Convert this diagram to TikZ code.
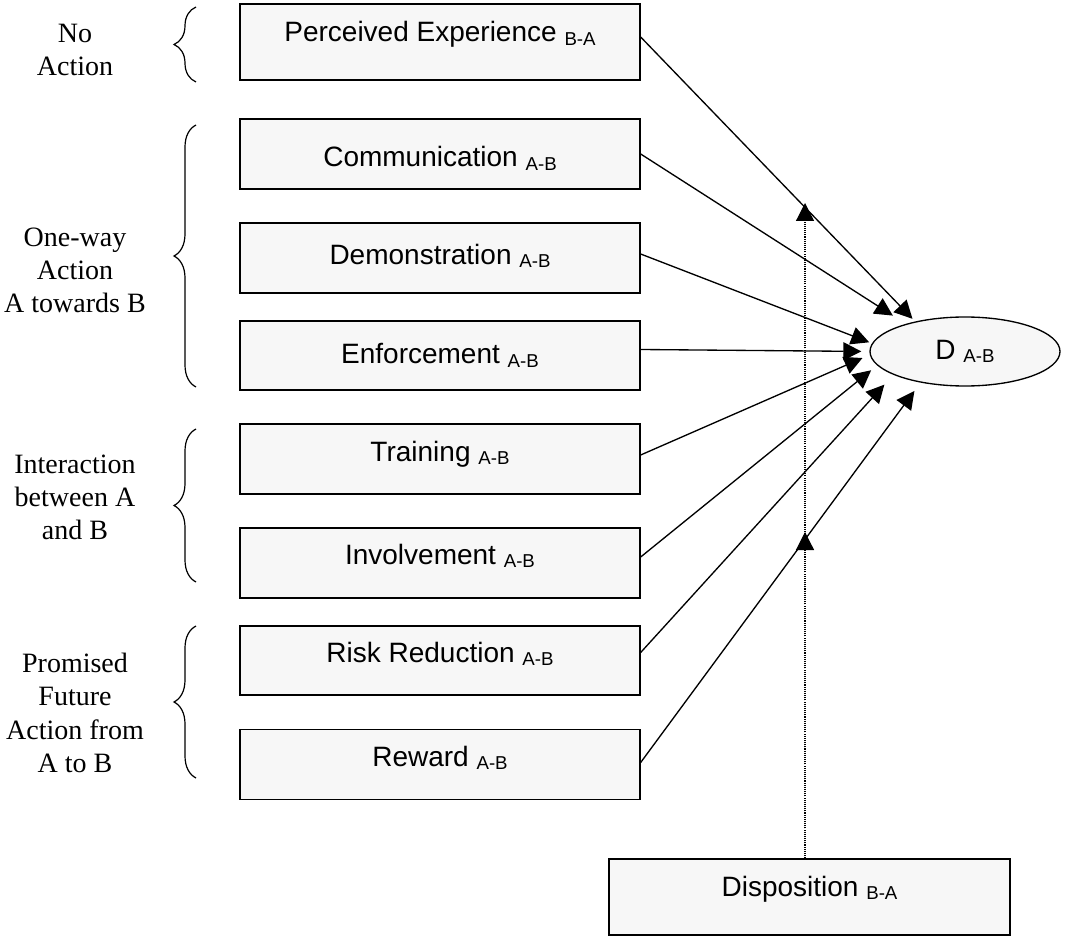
\documentclass[tikz,border=0pt]{standalone}
\usepackage{fontspec}
\setmainfont{Liberation Serif}
\newfontfamily\boxfont{Liberation Sans}
\usepackage{tikz}
\usetikzlibrary{arrows.meta,shapes.geometric,decorations.pathreplacing}

\newcommand{\lowtag}[1]{{\fontsize{14}{14}\selectfont\raisebox{-2.3pt}{#1}}}

\begin{document}
\begin{tikzpicture}
[x=0.75pt,y=-0.75pt,>={Triangle[length=13.5pt,width=13.5pt]},
box/.style={draw,line width=1pt,fill=black!3,font=\boxfont\fontsize{21}{21}\selectfont,minimum width=300pt,inner xsep=0pt,inner ysep=0pt,text height=27.75pt,text depth=24.75pt},
side/.style={font=\fontsize{21}{25}\selectfont,align=center,inner sep=0pt},
brc/.style={decorate,decoration={brace,amplitude=16.5pt},line width=0.9pt},
link/.style={->,line width=1pt},
moder/.style={->,line width=0.9pt,dash pattern=on 0.8pt off 0.8pt},]

\useasboundingbox (0,0) rectangle (1066,937);

%Group labels
\node (na) at (75,50)[side] {No\\Action};
\node (ow) at (75,270.5)[side] {One-way\\Action\\A towards B};
\node (ia) at (75,497.5)[side] {Interaction\\between A\\and B};
\node (pf) at (75,713)[side] {Promised\\Future\\Action from\\A to B};

%Braces
\draw[brc] (196,82) -- (196,7);
\draw[brc] (196,387) -- (196,125);
\draw[brc] (196,582) -- (196,429);
\draw[brc] (196,778) -- (196,626);

%Antecedent boxes
\node (pe) at (440,42)[box,text height=28.5pt,text depth=28.5pt] {Perceived Experience \lowtag{B-A}};
\node (co) at (440,154)[box,text height=36pt,text depth=16.5pt] {Communication \lowtag{A-B}};
\node (de) at (440,258)[box,text height=31pt,text depth=21.5pt] {Demonstration \lowtag{A-B}};
\node (en) at (440,355.5)[box,text height=32.25pt,text depth=19.5pt] {Enforcement \lowtag{A-B}};
\node (tr) at (440,459)[box] {Training \lowtag{A-B}};
\node (in) at (440,563)[box,text height=27pt,text depth=25.5pt] {Involvement \lowtag{A-B}};
\node (rr) at (440,660.5)[box,text height=27pt,text depth=24.75pt] {Risk Reduction \lowtag{A-B}};
\node (rw) at (440,764.5)[box] {Reward \lowtag{A-B}};

%Outcome and moderator
\node (d) at (965,351.5)[draw,ellipse,line width=1pt,fill=black!3,minimum width=142.5pt,minimum height=51.75pt,inner sep=0pt,font=\boxfont\fontsize{21}{21}\selectfont] {D \lowtag{A-B}};
\node (di) at (809.5,897)[box,minimum width=300.75pt,text height=27.75pt,text depth=29.25pt] {Disposition \lowtag{B-A}};

%Arrows into D
\draw[link,shorten >=2.8pt] ([yshift=3.75pt]pe.east) -- (d.149);
\draw[link,shorten >=11.5pt] (co.east) -- (d.155);
\draw[link,shorten >=2.2pt] ([yshift=3pt]de.east) -- (d.175);
\draw[link,shorten >=6pt] ([yshift=4.5pt]en.east) -- (d.180);
\draw[link,shorten >=6pt] ([yshift=3pt]tr.east) -- (d.182);
\draw[link,shorten >=5.8pt] ([yshift=4.5pt]in.east) -- (d.189);
\draw[link,shorten >=10pt] ([yshift=6pt]rr.east) -- (d.198);
\draw[link,shorten >=7.7pt] ([yshift=1.5pt]rw.east) -- (d.215);

%Moderating effect of disposition
\coordinate (m1) at (805,203);
\coordinate (m2) at (805,532);
\draw[moder] (m2 |- di.north) -- (m1);
\draw[moder] (m2 |- di.north) -- (m2);

\end{tikzpicture}
\end{document}
